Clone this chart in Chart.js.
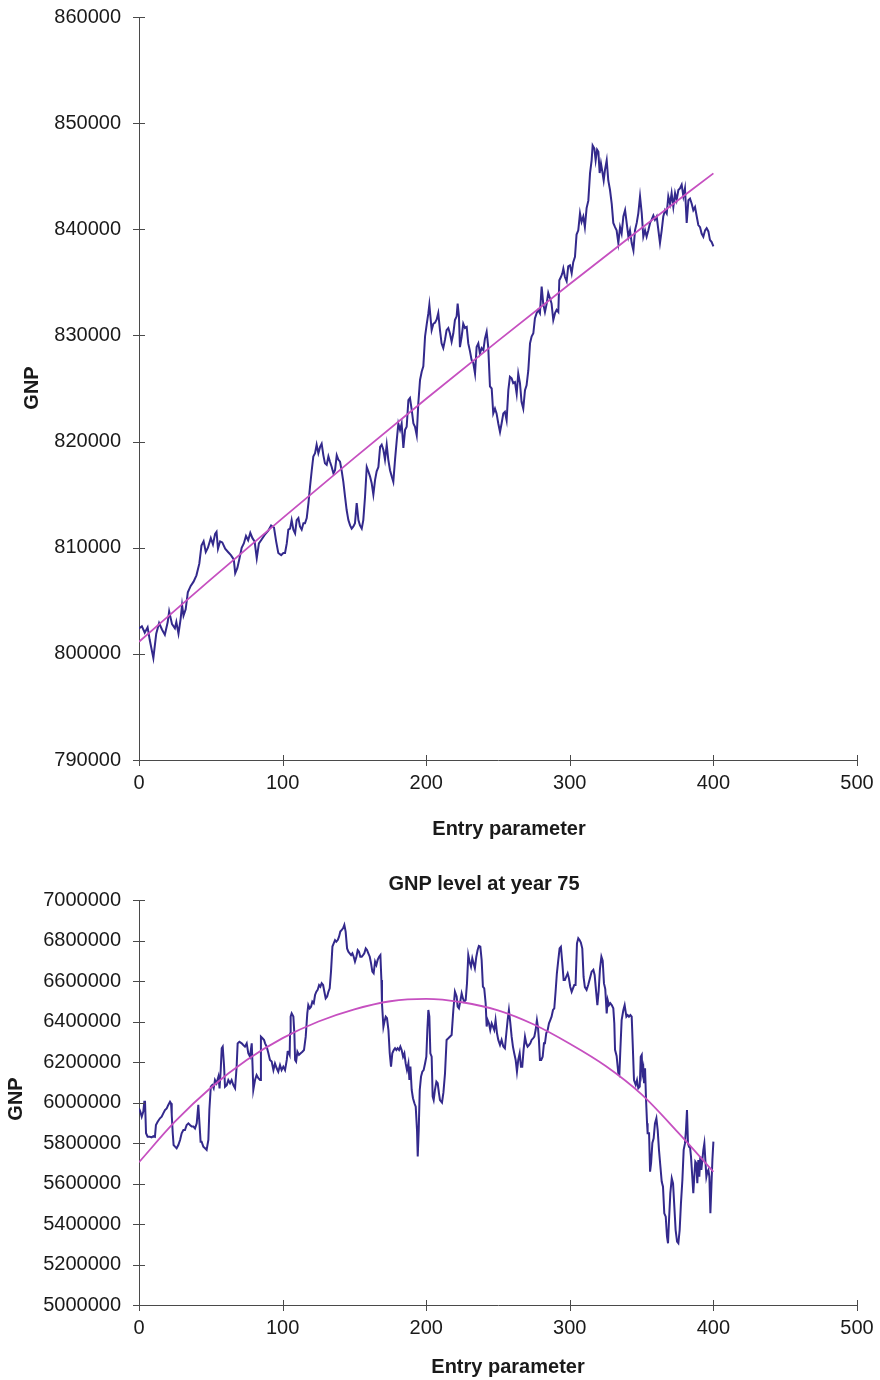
<!DOCTYPE html>
<html>
<head>
<meta charset="utf-8">
<script src="https://cdn.jsdelivr.net/npm/chart.js@4.4.1/dist/chart.umd.min.js"></script>
<style>
  html, body { margin: 0; padding: 0; background: #ffffff; }
  #page { position: relative; width: 880px; height: 1380px; overflow: hidden; }
  #page canvas { position: absolute; left: 0; }
  #gnpTrend { top: 0; }
  #gnpYear75 { top: 850px; }
</style>
</head>
<body>
<div id="page">
  <canvas id="gnpTrend" width="880" height="850"></canvas>
  <canvas id="gnpYear75" width="880" height="530"></canvas>
</div>
<script>
// ---- shared axis ticks ----
const entryTicks = [0, 100, 200, 300, 400, 500];
const gnpTicksUpper = [790000, 800000, 810000, 820000, 830000, 840000, 850000, 860000];
const gnpTicksLower = [5000000, 5200000, 5400000, 5600000, 5800000, 6000000, 6200000, 6400000, 6600000, 6800000, 7000000];

// ---- upper panel: GNP against entry parameter ----
const upperEntry = [
  0,2,4,6,7.5,10,12,14,16,18,
  20,21,23,25,26,27.5,29,30,31,32.5,
  34,36,38,40,42,43.5,45,46.5,48,50,
  51.5,53,54,55,56.5,58,60,62,64,66,
  67,68.5,70,71.5,73,74.5,76,77.5,79,80.5,
  82,83.5,85.5,87.5,90,92,94,95.5,97,99,
  100.5,101.7,102.9,104,105.2,106.3,107.5,108.7,109.8,111,
  112.1,113.3,114.5,115.6,116.8,118,119.1,120.3,121.4,122.6,
  123.7,124.9,126.1,127.2,128.4,129.5,130.7,131.9,133,134.2,
  135.4,136.5,137.7,138.8,140,141.2,142.3,143.5,144.6,145.8,
  147,148.1,149.3,150.4,151.6,152.8,153.9,155.1,156.2,157.4,
  158.6,159.7,160.9,162,163.2,164.4,165.5,166.7,167.9,169,
  170.2,171.3,172.5,173.6,174.8,176,177.1,178.3,179.5,180.6,
  181.8,182.9,184.1,185.3,186.4,187.6,188.7,189.9,191.1,192.2,
  193.4,194.5,195.7,196.9,198,199.2,200.3,201.5,202.2,203.8,
  205,206.1,207.3,208.4,209.6,210.7,211.9,213.1,214.2,215.4,
  216.5,217.7,218.9,220,221.2,221.9,222.8,223.5,224.7,225.8,
  227,228.2,229.3,230.5,231.6,232.8,234,235.1,236.3,237.4,
  238.6,239.8,240.9,242.1,243.2,244.4,245.6,246.7,247.9,249,
  250.2,251.4,252.5,253.7,254.8,256,257.2,258.3,259.5,260.6,
  261.8,263,264.1,265.3,266.4,267.6,268.8,269.9,271.1,272.3,
  273.4,274.6,275.7,276.9,278,279.2,280.4,281.5,282.7,283.9,
  285,286.2,287.3,288.5,289.7,290.8,292,292.7,293.8,294.8,
  295.5,296.6,297.8,298.9,300.1,301.3,302.4,303.6,304.7,305.9,
  307.1,308.2,309.4,310.5,311.7,312.9,314.1,315.2,315.9,317.1,
  318,319,319.9,320.8,321.7,322.7,323.6,324.5,325.7,326.8,
  328,329.2,330.3,331.5,332.6,333.8,335,336.1,337.3,338.5,
  339.6,340.8,341.9,343.1,344.3,345.4,346.6,347.7,348.9,350.1,
  351.2,352.4,353.5,354.7,355.9,357,358.2,359.3,360.5,361.7,
  362.8,364,365.1,366.3,367.5,368.6,369.8,370.9,372.1,373.3,
  374.4,375.6,376.7,377.9,379.1,380.2,381.4,382.6,383.7,384.9,
  386,387.2,388.4,389.5,390.7,391.8,393,394.2,395.3,396.5,
  397.6,398.8,400
];
const upperGnp = [
  802400,802600,802000,802500,801300,799600,801900,802900,802300,801800,
  803000,804000,802800,802400,803000,801900,803300,804600,803600,804200,
  805800,806400,806800,807400,808500,810200,810600,809600,810000,810900,
  810300,811300,811500,809900,810600,810500,809900,809600,809300,808900,
  807600,808100,809000,810000,810400,811100,810700,811400,810900,810600,
  809000,810400,810800,811200,811600,812100,811900,810600,809500,809300,
  809500,809500,810400,811700,811800,812600,811700,811350,812600,812800,
  812000,811700,812300,812300,812800,814200,815750,817300,818600,818900,
  819700,818900,819500,819800,818700,817950,817800,818600,818100,817600,
  817000,817300,818700,818300,818100,817200,816200,814800,813550,812600,
  812100,811800,812000,812300,814200,812600,812100,811800,812600,814800,
  817600,817200,816700,816100,815000,816400,817200,817600,819500,819700,
  819200,818300,819700,818300,817300,816700,816200,818300,820150,821700,
  821100,821700,819400,821100,821400,823900,824100,823000,821700,821400,
  820600,823600,825800,826600,827100,829900,831000,832100,832900,830500,
  831100,831200,831500,832100,830500,829250,828800,829600,830500,830700,
  830200,829400,830200,831450,831800,833000,831800,828900,829900,831100,
  830700,830800,829250,828500,827700,827400,826400,828900,829250,828300,
  828800,828600,829700,830350,828900,825200,825000,822650,823100,822650,
  821700,820900,821700,822650,822800,822000,824850,826100,825950,825500,
  825600,824500,826400,825500,823750,823100,824850,825300,826700,829250,
  829900,830200,831600,832100,832400,832100,834600,833000,832200,833000,
  834000,833500,833000,831450,832100,832400,832200,835200,835500,835850,
  836300,835500,835100,836500,836600,835850,836900,837400,839500,839900,
  841500,840700,841200,840200,842000,842700,845300,846500,847900,847600,
  846500,847500,847300,845300,846200,845400,844600,845600,846500,844600,
  843700,842400,840600,840200,839900,838700,840200,839600,841200,841800,
  840600,839300,839900,838700,838000,839900,840600,841500,843100,841500,
  839300,839900,839300,839900,840600,840900,841300,840900,841200,839900,
  838700,839900,841200,841800,841500,843100,842400,843400,842100,843400,
  842750,843700,843850,844200,843100,843850,840600,842750,842900,842400,
  841800,842100,841200,840400,840200,839600,839300,839900,840100,839800,
  839000,838800,838400
];
const upperTrendEntry = [0, 50, 100, 150, 200, 250, 300, 350, 400];
const upperTrendGnp = [801140, 807020, 812790, 818460, 824030, 829490, 834850, 840120, 845270];

// ---- lower panel: GNP level at year 75 ----
const lowerEntry = [
  0,0.9,1.9,3,3.7,4.2,4.9,6,7.6,8.8,
  10,11.1,11.8,13,14.6,15.8,16.9,18.1,19.3,20.4,
  21.6,22.3,22.8,23.5,24.1,25.1,26.2,27.4,28.6,29.7,
  30.9,32,33.2,34.4,35.5,36.7,37.9,39,40.2,41.3,
  42.9,43.6,44.8,46,47.1,48.3,49,50,51,52,
  52.9,54,55.3,56.1,56.9,57.6,58.3,59.2,59.9,61.1,
  62.2,63.4,64.5,65.7,66.9,68,68.7,69.9,71.5,72.6,
  73.8,75,76.1,77.3,78.5,79.1,79.6,80.8,81.9,83.1,
  84.3,84.9,86,87.1,87.8,88.9,90.1,91.2,92.4,93.6,
  94.7,95.9,97,98.2,99.3,100.5,101.7,102.9,103.5,104,
  104.9,105.2,105.6,106.3,107.5,108.2,108.7,109.4,110.3,111.4,
  112.6,113.8,114.9,116.1,117.2,117.9,118.9,119.8,120.7,121.7,
  122.6,123.5,124.4,125.4,126.3,127.2,128.2,129.1,130,131,
  131.9,132.8,133.7,134.7,135.6,136.5,137.4,138.4,139.3,140.2,
  141.2,142.1,143,143.9,144.9,145.8,146.7,147.7,148.6,149.5,
  150.4,151.4,152.3,153.2,154.1,155.1,156,156.9,157.9,158.8,
  159.7,160.7,161.6,162.5,163.4,164.4,165.3,166.2,167.2,168.1,
  168.8,169.2,170.2,170.9,171.8,172.7,173.7,174.6,175.5,176.4,
  177.4,178.3,179.2,180.1,181.1,182,182.9,183.9,184.8,185.7,
  186.6,187.6,188.3,189,189.9,190.8,191.8,192.7,193.6,194.1,
  194.8,195.5,196.4,197.3,198.2,199.2,200.1,200.8,201.5,202.2,
  202.9,203.8,204.5,205.2,206.1,207.1,208,208.9,209.6,211,
  212,213.1,214.2,215.4,216.5,217.7,218.9,220,221.2,221.9,
  222.8,223.7,224.7,225.6,226.5,227.5,228.4,229.3,230.2,231.2,
  232.1,233,233.9,234.9,235.8,236.7,237.7,238.6,239.5,240.4,
  241.4,242.1,242.8,243.7,244.6,245.6,246.5,247.4,248.3,249.3,
  250.2,251.4,252.5,253.7,254.8,255.8,256.7,257.6,258.6,259.5,
  260.4,261.3,262.3,263.2,264.1,265.1,266,266.9,267.8,268.8,
  269.7,270.6,271.6,272.5,273.4,274.4,275.3,276.2,277.1,277.8,
  278.5,279.2,280.1,281.1,282,282.7,283.6,284.6,285.5,286.4,
  287.3,288.3,289.2,290.1,291,292,292.9,293.8,294.8,295.7,
  296.6,297.5,298.5,299.4,300.3,301.3,302.2,303.1,304,305,
  305.9,306.8,307.7,308.7,309.6,310.5,311.7,312.8,313.9,315.2,
  316.4,317.3,318.3,319.2,320.1,321,322,322.9,323.8,324.7,
  325.7,326.4,327.3,328.2,329.2,330.3,331,331.5,332.6,333.8,
  334.5,335.2,336.1,337.3,338.2,339.4,340.3,341.2,342.2,343.1,
  343.8,344.7,345.9,346.8,347.7,348.7,349.4,350.1,350.5,351.2,
  351.7,352.4,353.1,353.8,354.2,355.2,355.9,356.6,357.5,358.4,
  359.3,360.3,361.2,362.1,363.1,364,364.9,365.8,366.8,367.7,
  368.4,369.1,370,371,371.9,372.8,373.7,374.7,375.6,376.5,
  377.4,378.4,379.3,380.2,380.9,381.6,382.3,383,383.7,384.4,
  385.3,386,386.7,387.4,388.1,388.8,389.5,390.2,390.9,391.6,
  392.3,393,393.7,394.4,395.1,395.8,396.5,397.2,397.9,398.6,
  399.3,400
];
const lowerGnp = [
  5971000,5955000,5930000,5955000,6004000,6004000,5848000,5831000,5831000,5828000,
  5834000,5831000,5889000,5905000,5922000,5930000,5946000,5963000,5971000,5988000,
  6004000,5996000,5938000,5848000,5790000,5782000,5774000,5790000,5815000,5848000,
  5864000,5864000,5889000,5897000,5889000,5881000,5881000,5872000,5897000,5988000,
  5806000,5806000,5782000,5774000,5766000,5815000,5963000,6078000,6086000,6070000,
  6111000,6095000,6128000,6070000,6160000,6268000,6276000,6185000,6078000,6086000,
  6111000,6095000,6111000,6086000,6070000,6177000,6292000,6300000,6292000,6284000,
  6276000,6292000,6243000,6226000,6292000,6177000,6062000,6111000,6136000,6120000,
  6111000,6325000,6317000,6309000,6292000,6276000,6243000,6210000,6202000,6160000,
  6193000,6169000,6152000,6185000,6160000,6177000,6160000,6210000,6250000,6251000,
  6235000,6340000,6424000,6440000,6424000,6340000,6210000,6202000,6251000,6235000,
  6243000,6251000,6259000,6325000,6440000,6481000,6465000,6473000,6498000,6490000,
  6531000,6547000,6556000,6580000,6572000,6589000,6580000,6547000,6514000,6523000,
  6547000,6564000,6646000,6770000,6786000,6802000,6794000,6802000,6819000,6844000,
  6852000,6860000,6877000,6844000,6761000,6745000,6737000,6728000,6737000,6720000,
  6696000,6720000,6753000,6745000,6720000,6720000,6728000,6737000,6761000,6753000,
  6737000,6720000,6687000,6646000,6638000,6696000,6679000,6704000,6720000,6728000,
  6605000,6490000,6374000,6399000,6424000,6416000,6358000,6243000,6177000,6243000,
  6259000,6268000,6259000,6268000,6259000,6276000,6259000,6226000,6243000,6193000,
  6160000,6193000,6111000,6177000,6062000,6021000,5996000,5979000,5864000,5733000,
  5864000,6062000,6128000,6152000,6160000,6193000,6226000,6358000,6457000,6424000,
  6243000,6226000,6029000,6012000,6062000,6103000,6095000,6045000,6012000,6000000,
  6050000,6144000,6309000,6317000,6325000,6333000,6457000,6547000,6523000,6473000,
  6465000,6498000,6539000,6514000,6498000,6506000,6588000,6728000,6695000,6671000,
  6712000,6687000,6663000,6720000,6753000,6773000,6770000,6704000,6572000,6564000,
  6490000,6375000,6407000,6391000,6358000,6391000,6375000,6358000,6407000,6342000,
  6309000,6284000,6309000,6276000,6267000,6342000,6407000,6457000,6391000,6325000,
  6276000,6243000,6210000,6152000,6210000,6243000,6177000,6177000,6259000,6325000,
  6292000,6276000,6284000,6292000,6309000,6317000,6325000,6358000,6407000,6374000,
  6309000,6210000,6210000,6226000,6292000,6292000,6342000,6358000,6391000,6407000,
  6424000,6457000,6465000,6547000,6638000,6704000,6761000,6769000,6687000,6605000,
  6605000,6621000,6638000,6613000,6572000,6547000,6564000,6580000,6580000,6786000,
  6811000,6802000,6790000,6760000,6620000,6570000,6556000,6580000,6610000,6646000,
  6655000,6630000,6550000,6481000,6550000,6660000,6720000,6700000,6588000,6560000,
  6440000,6506000,6481000,6490000,6481000,6465000,6390000,6260000,6230000,6144000,
  6136000,6260000,6407000,6457000,6481000,6424000,6432000,6424000,6432000,6424000,
  6292000,6111000,6087000,6111000,6070000,6078000,6226000,6235000,6144000,6169000,
  6095000,6169000,6012000,5897000,5848000,5848000,5658000,5700000,5800000,5823000,
  5897000,5922000,5864000,5766000,5683000,5610000,5584000,5453000,5436000,5337000,
  5305000,5420000,5551000,5626000,5601000,5486000,5370000,5313000,5305000,5370000,
  5502000,5617000,5766000,5798000,5864000,5963000,5798000,5782000,5782000,5733000,
  5634000,5552000,5634000,5708000,5700000,5601000,5716000,5634000,5733000,5667000,
  5716000,5766000,5798000,5716000,5634000,5658000,5667000,5634000,5453000,5584000,
  5716000,5807000
];
const lowerTrendEntry = [0,25,50,75,100,125,150,175,200,225,250,275,300,325,350,375,400];
const lowerTrendGnp = [5705000,5905000,6073000,6210000,6318000,6400000,6460000,6500000,6512000,6495000,6455000,6385000,6290000,6180000,6040000,5855000,5658000];

// ---- styling ----
const FONT = "'Liberation Sans', Arial, Helvetica, sans-serif";
const TEXT = '#1a1a1a';
const AXIS = '#4a4a4a';
const SERIES = '#33298c';
const TREND = '#c650c0';

Chart.defaults.font.family = FONT;
Chart.defaults.color = TEXT;

const toPoints = (xs, ys) => xs.map((x, i) => ({ x: x, y: ys[i] }));

// draws the short tick marks straddling both axes, and the panel captions
const axisDecor = {
  id: 'axisDecor',
  afterDraw(chart, args, opts) {
    const ctx = chart.ctx;
    const { left, bottom } = chart.chartArea;
    const xs = chart.scales.x, ys = chart.scales.y;
    ctx.save();
    ctx.strokeStyle = AXIS;
    ctx.lineWidth = 1;
    ctx.beginPath();
    xs.ticks.forEach(t => {
      const p = Math.round(xs.getPixelForValue(t.value)) + 0.5;
      ctx.moveTo(p, bottom - 5);
      ctx.lineTo(p, bottom + 6);
    });
    ys.ticks.forEach(t => {
      const p = Math.round(ys.getPixelForValue(t.value)) + 0.5;
      ctx.moveTo(left - 6, p);
      ctx.lineTo(left + 6, p);
    });
    ctx.stroke();
    ctx.fillStyle = TEXT;
    ctx.textAlign = 'center';
    ctx.textBaseline = 'middle';
    (opts.captions || []).forEach(c => {
      ctx.save();
      ctx.translate(c.x, c.y);
      if (c.rotate) ctx.rotate(c.rotate);
      ctx.font = 'bold 20px ' + FONT;
      ctx.fillText(c.text, 0, 0);
      ctx.restore();
    });
    ctx.restore();
  }
};

function panel(canvasId, cfg) {
  return new Chart(document.getElementById(canvasId), {
    type: 'line',
    data: {
      datasets: [
        {
          data: toPoints(cfg.entry, cfg.values),
          borderColor: SERIES,
          borderWidth: 2,
          pointRadius: 0,
          tension: 0,
          order: 2
        },
        {
          data: toPoints(cfg.trendEntry, cfg.trendValues),
          borderColor: TREND,
          borderWidth: 1.8,
          pointRadius: 0,
          cubicInterpolationMode: 'monotone',
          order: 1
        }
      ]
    },
    options: {
      responsive: false,
      animation: false,
      events: [],
      layout: { padding: { top: cfg.padTop, right: 23, left: 0, bottom: 0 } },
      plugins: {
        legend: { display: false },
        tooltip: { enabled: false },
        axisDecor: { captions: cfg.captions }
      },
      scales: {
        x: {
          type: 'linear',
          min: 0,
          max: 500,
          afterBuildTicks: s => { s.ticks = entryTicks.map(v => ({ value: v })); },
          afterFit: s => { s.height = cfg.xHeight; },
          // grid lines hidden; the tick length only offsets the labels
          grid: { display: false, drawTicks: true, tickLength: 11 },
          border: { display: true, color: AXIS, width: 1 },
          ticks: { padding: 0, font: { size: 20 }, color: TEXT, maxRotation: 0, autoSkip: false, callback: v => String(v) }
        },
        y: {
          type: 'linear',
          min: cfg.yTicks[0],
          max: cfg.yTicks[cfg.yTicks.length - 1],
          afterBuildTicks: s => { s.ticks = cfg.yTicks.map(v => ({ value: v })); },
          afterFit: s => { s.width = 139; },
          grid: { display: false, drawTicks: true, tickLength: 18 },
          border: { display: true, color: AXIS, width: 1 },
          ticks: { padding: 0, font: { size: 20 }, color: TEXT, autoSkip: false, callback: v => String(v) }
        }
      }
    },
    plugins: [axisDecor]
  });
}

panel('gnpTrend', {
  entry: upperEntry,
  values: upperGnp,
  trendEntry: upperTrendEntry,
  trendValues: upperTrendGnp,
  yTicks: gnpTicksUpper,
  padTop: 17,
  xHeight: 90,
  captions: [
    { text: 'GNP', x: 32, y: 388, rotate: -Math.PI / 2 },
    { text: 'Entry parameter', x: 509, y: 829 }
  ]
});

panel('gnpYear75', {
  entry: lowerEntry,
  values: lowerGnp,
  trendEntry: lowerTrendEntry,
  trendValues: lowerTrendGnp,
  yTicks: gnpTicksLower,
  padTop: 50,
  xHeight: 75,
  captions: [
    { text: 'GNP level at year 75', x: 484, y: 34 },
    { text: 'GNP', x: 16, y: 249, rotate: -Math.PI / 2 },
    { text: 'Entry parameter', x: 508, y: 517 }
  ]
});
</script>
</body>
</html>
